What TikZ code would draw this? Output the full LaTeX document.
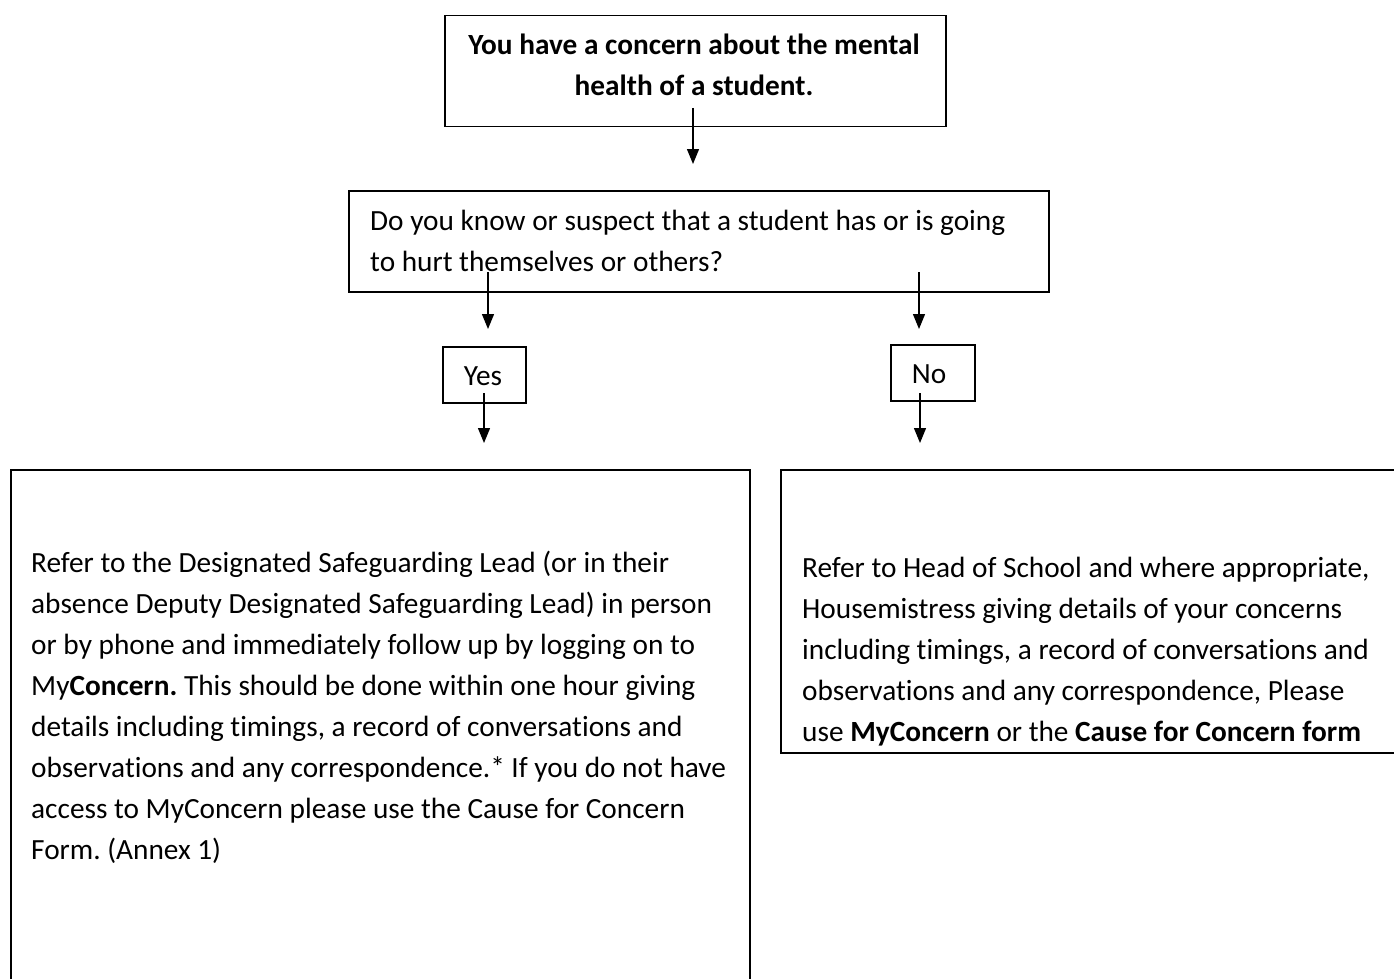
\documentclass[tikz,border=0pt]{standalone}
\usepackage{fontspec}
\setmainfont{Carlito}[Ligatures=NoCommon]
\usetikzlibrary{arrows.meta}
\frenchspacing
\tikzset{
  x=1pt, y=-1pt,
  boxnode/.style={draw=black, line width=1.5pt, rectangle, inner sep=0pt, anchor=north west},
  txt/.style={inner sep=0pt, anchor=base west, align=left, font=\fontsize{29.3}{41}\selectfont},
  flow/.style={line width=1.3pt, -{Triangle[width=12pt,length=15pt]}}
}
\begin{document}
\frenchspacing
\begin{tikzpicture}
\useasboundingbox (0,0) rectangle (1394,979);
\clip (0,0) rectangle (1394,979);
\fill[white] (0,0) rectangle (1394,979);

% boxes
\node[boxnode, minimum width=501pt, minimum height=111pt] (top) at (444,15) {};
\node[boxnode, minimum width=700pt, minimum height=101pt] (q) at (348,190) {};
\node[boxnode, minimum width=83pt, minimum height=56pt] (yes) at (442,346) {};
\node[boxnode, minimum width=84pt, minimum height=56pt] (no) at (890,344) {};
\node[boxnode, minimum width=739pt, minimum height=700pt] (left) at (10,469) {};
\node[boxnode, minimum width=700pt, minimum height=283pt] (right) at (780,469) {};

% texts (anchored at the baseline of their last line)
\node[inner sep=0pt, anchor=base, align=center, font=\fontsize{29.3}{41}\selectfont\bfseries] (toptxt) at (694,96)
  {You have a concern about the mental\\health of a student.};
\node[txt] (qtxt) at (370,271)
  {Do you know or suspect that a student has or is going\\to hurt themselves or others?};
\node[inner sep=0pt, anchor=base, font=\fontsize{29.3}{41}\selectfont] (yestxt) at (483,385) {Yes};
\node[inner sep=0pt, anchor=base, font=\fontsize{29.3}{41}\selectfont] (notxt) at (929,383) {No};
\node[txt] (lefttxt) at (31,859)
  {Refer to the Designated Safeguarding Lead (or in their\\
   absence Deputy Designated Safeguarding Lead) in person\\
   or by phone and immediately follow up by logging on to\\
   My\textbf{Concern.} This should be done within one hour giving\\
   details including timings, a record of conversations and\\
   observations and any correspondence.* If you do not have\\
   access to MyConcern please use the Cause for Concern\\
   Form. (Annex 1)};
\node[txt] (righttxt) at (802,741)
  {Refer to Head of School and where appropriate,\\
   Housemistress giving details of your concerns\\
   including timings, a record of conversations and\\
   observations and any correspondence, Please\\
   use \textbf{MyConcern} or the \textbf{Cause for Concern form}};

% connector ends
\coordinate (a1s) at (693,108);
\coordinate (a1e) at (693,164);
\coordinate (a2s) at (488,272);
\coordinate (a2e) at (488,329);
\coordinate (a3s) at (919,272);
\coordinate (a3e) at (919,329);
\coordinate (a4s) at (484,393);
\coordinate (a4e) at (484,443);
\coordinate (a5s) at (920,393);
\coordinate (a5e) at (920,443);

\draw[flow] (a1s) -- (a1e);
\draw[flow] (a2s) -- (a2e);
\draw[flow] (a3s) -- (a3e);
\draw[flow] (a4s) -- (a4e);
\draw[flow] (a5s) -- (a5e);
\end{tikzpicture}
\end{document}
